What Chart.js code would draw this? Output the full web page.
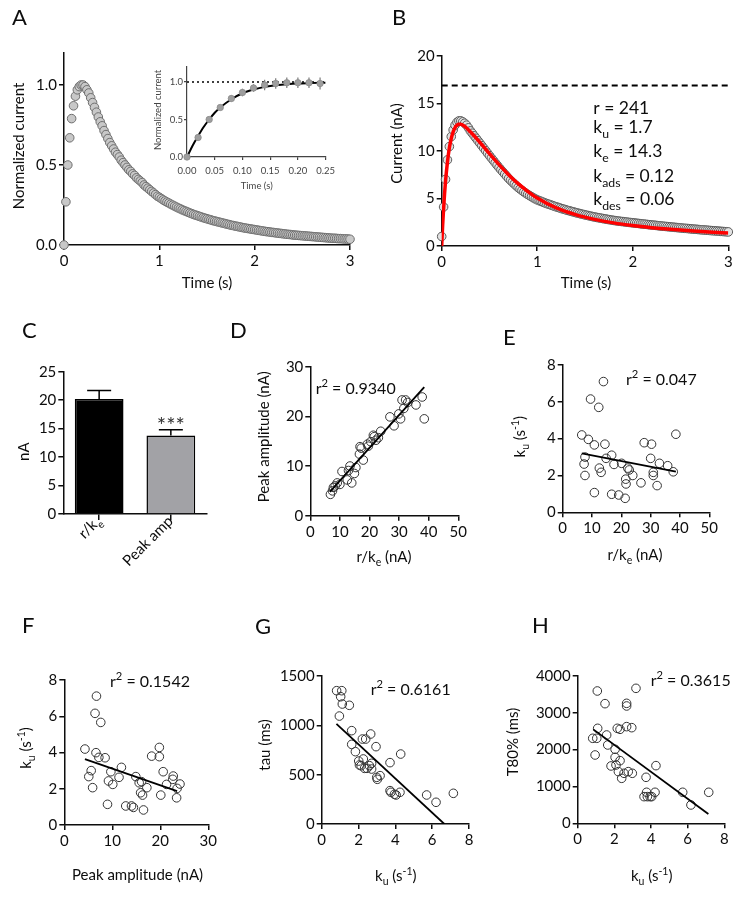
<!DOCTYPE html>
<html>
<head>
<meta charset="utf-8">
<script src="https://cdn.jsdelivr.net/npm/chart.js@4.4.1/dist/chart.umd.min.js"></script>
<style>
body { margin: 0; background: #fff; }
#fig { position: relative; width: 741px; height: 898px; overflow: hidden; background: #fff; }
#fig canvas { position: absolute; }
</style>
</head>
<body>
<div id="fig">
  <canvas id="panelA" width="370" height="300" style="left:0;top:0"></canvas>
  <canvas id="panelInset" width="200" height="140" style="left:140px;top:55px"></canvas>
  <canvas id="panelB" width="371" height="300" style="left:370px;top:0"></canvas>
  <canvas id="panelC" width="225" height="300" style="left:0;top:300px"></canvas>
  <canvas id="panelD" width="270" height="300" style="left:225px;top:300px"></canvas>
  <canvas id="panelE" width="246" height="300" style="left:495px;top:300px"></canvas>
  <canvas id="panelF" width="250" height="298" style="left:0;top:600px"></canvas>
  <canvas id="panelG" width="250" height="298" style="left:250px;top:600px"></canvas>
  <canvas id="panelH" width="241" height="298" style="left:500px;top:600px"></canvas>
</div>
<script>
// ---- data ----
// A / B traces are sampled every 20 ms from 0 to 3 s
const SAMPLE_STEP = 0.02;

const normCurrent = [
  0, 0.27, 0.50, 0.67, 0.79, 0.87, 0.93, 0.97, 0.99, 1.00,
  1.00, 0.99, 0.97, 0.95, 0.92, 0.89, 0.86, 0.83, 0.80, 0.77,
  0.745, 0.715, 0.69, 0.665, 0.64, 0.62, 0.60, 0.58, 0.565, 0.55,
  0.53, 0.515, 0.50, 0.485, 0.47, 0.46, 0.445, 0.435, 0.42, 0.41,
  0.40, 0.39, 0.375, 0.365, 0.355, 0.345, 0.335, 0.325, 0.315, 0.305,
  0.298, 0.29, 0.282, 0.275, 0.268, 0.262, 0.255, 0.249, 0.243, 0.237,
  0.231, 0.226, 0.22, 0.215, 0.21, 0.205, 0.2, 0.196, 0.191, 0.187,
  0.183, 0.179, 0.175, 0.171, 0.167, 0.164, 0.16, 0.157, 0.153, 0.15,
  0.147, 0.144, 0.141, 0.138, 0.135, 0.132, 0.129, 0.126, 0.123, 0.121,
  0.118, 0.116, 0.113, 0.111, 0.108, 0.106, 0.104, 0.102, 0.1, 0.098,
  0.096, 0.094, 0.092, 0.09, 0.088, 0.086, 0.084, 0.083, 0.081, 0.079,
  0.078, 0.076, 0.075, 0.073, 0.072, 0.07, 0.069, 0.067, 0.066, 0.065,
  0.063, 0.062, 0.061, 0.06, 0.059, 0.058, 0.057, 0.056, 0.055, 0.054,
  0.053, 0.052, 0.051, 0.05, 0.049, 0.048, 0.047, 0.046, 0.045, 0.044,
  0.043, 0.042, 0.042, 0.041, 0.040, 0.040, 0.039, 0.038, 0.038, 0.037,
  0.036
];

const insetTimes = [0, 0.02, 0.04, 0.06, 0.08, 0.10, 0.12, 0.14, 0.16, 0.18, 0.20, 0.22, 0.24];
const insetMeans = [0, 0.26, 0.50, 0.66, 0.78, 0.86, 0.92, 0.96, 0.98, 0.99, 0.99, 0.99, 0.98];
const insetErrors = [0, 0.02, 0.02, 0.03, 0.04, 0.05, 0.05, 0.07, 0.07, 0.07, 0.07, 0.07, 0.08];
const insetFitTimes = [0, 0.01, 0.02, 0.03, 0.04, 0.05, 0.06, 0.08, 0.10, 0.12, 0.14, 0.16, 0.18, 0.20, 0.22, 0.25];
const insetFitValues = [0, 0.15, 0.28, 0.40, 0.50, 0.59, 0.66, 0.77, 0.85, 0.90, 0.935, 0.955, 0.97, 0.98, 0.985, 0.99];

const cellCurrent = [
  1.0, 4.1, 7.0, 9.05, 10.45, 11.5, 12.2, 12.7, 13.0, 13.15,
  13.15, 13.05, 12.9, 12.7, 12.42, 12.1, 11.85, 11.58, 11.32, 11.06,
  10.8, 10.54, 10.28, 10.02, 9.76, 9.5, 9.25, 9.0, 8.75, 8.5,
  8.25, 8.02, 7.79, 7.56, 7.33, 7.1, 6.9, 6.71, 6.52, 6.33,
  6.15, 5.99, 5.84, 5.69, 5.55, 5.42, 5.3, 5.18, 5.06, 4.95,
  4.85, 4.77, 4.69, 4.61, 4.53, 4.46, 4.39, 4.32, 4.25, 4.18,
  4.11, 4.05, 3.99, 3.92, 3.86, 3.8, 3.74, 3.69, 3.63, 3.58,
  3.52, 3.47, 3.42, 3.37, 3.32, 3.27, 3.23, 3.18, 3.14, 3.09,
  3.05, 3.01, 2.97, 2.94, 2.9, 2.86, 2.83, 2.79, 2.76, 2.72,
  2.69, 2.66, 2.63, 2.61, 2.58, 2.56, 2.53, 2.51, 2.48, 2.46,
  2.44, 2.42, 2.39, 2.37, 2.34, 2.32, 2.3, 2.28, 2.25, 2.23,
  2.21, 2.19, 2.17, 2.14, 2.12, 2.1, 2.08, 2.06, 2.04, 2.02,
  2.0, 1.98, 1.96, 1.94, 1.92, 1.9, 1.88, 1.86, 1.85, 1.83,
  1.81, 1.79, 1.77, 1.76, 1.74, 1.72, 1.7, 1.69, 1.67, 1.66,
  1.64, 1.62, 1.61, 1.59, 1.58, 1.56, 1.54, 1.53, 1.51, 1.5,
  1.48
];
const modelTimes = [0, 0.01, 0.02, 0.03, 0.04, 0.06, 0.08, 0.10, 0.12, 0.14, 0.16, 0.18, 0.20, 0.25, 0.30, 0.40, 0.50, 0.60, 0.70, 0.80, 0.90, 1.00, 1.20, 1.40, 1.60, 1.80, 2.00, 2.20, 2.40, 2.60, 2.80, 3.00];
const modelCurrent = [0, 2.2, 3.9, 5.5, 6.8, 8.8, 10.3, 11.3, 12.0, 12.45, 12.7, 12.8, 12.8, 12.5, 12.0, 10.9, 9.7, 8.55, 7.5, 6.55, 5.75, 5.05, 4.0, 3.3, 2.8, 2.43, 2.15, 1.93, 1.75, 1.6, 1.47, 1.36];
const plateauCurrent = 16.87;
const plateauSpan = [0, 3];
const modelParams = ['r = 241', 'k_{u} = 1.7', 'k_{e} = 14.3', 'k_{ads} = 0.12', 'k_{des} = 0.06'];

const barCategories = ['r/k_{e}', 'Peak amp'];
const barValues = [20.2, 13.8];
const barErrors = [1.5, 1.0];
const barMarks = ['', '***'];

const rKe = [6.8, 7.5, 7.8, 8.4, 9.1, 10.0, 10.7, 12.5, 12.9, 13.4, 14.0, 14.9, 15.4, 16.6, 16.8, 17.2, 17.9, 19.3, 19.6, 20.4, 21.3, 21.6, 22.2, 23.0, 23.8, 26.9, 28.3, 29.9, 30.5, 31.0, 31.6, 32.2, 32.9, 35.7, 37.8, 38.5];
const peakAmp = [4.3, 5.0, 5.7, 6.0, 6.6, 6.3, 8.9, 7.2, 9.1, 10.0, 6.6, 8.5, 9.7, 12.4, 13.9, 13.6, 11.2, 14.4, 14.0, 14.9, 16.2, 15.9, 15.2, 15.7, 17.0, 19.9, 18.1, 20.5, 19.5, 23.3, 21.6, 23.3, 22.8, 22.3, 23.9, 19.5];
const fitD = {x: [6.6, 38.5], y: [4.8, 25.9]};

const eRKe = [6.5, 7.3, 7.6, 7.6, 8.75, 9.5, 10.8, 10.8, 12.3, 12.5, 13.1, 13.9, 14.4, 14.8, 16.7, 16.7, 17.5, 19.1, 20.1, 21.3, 21.5, 21.6, 22.2, 22.7, 23.9, 26.7, 27.8, 30.0, 30.3, 30.9, 30.9, 32.2, 33.0, 35.8, 37.7, 38.6];
const eKu = [4.2, 2.62, 3.0, 2.0, 3.96, 6.15, 3.66, 1.07, 5.7, 2.4, 2.17, 7.1, 3.7, 2.93, 3.1, 0.98, 2.6, 0.94, 2.66, 0.76, 1.8, 1.54, 2.4, 2.3, 2.0, 1.6, 3.78, 2.93, 3.7, 2.17, 2.0, 1.45, 2.66, 2.53, 2.2, 4.24];
const fitE = {x: [6.5, 38.6], y: [3.2, 2.21]};

const fPeak = [4.3, 5.1, 5.6, 5.9, 6.4, 6.7, 6.6, 7.2, 7.6, 8.5, 9.0, 9.2, 9.7, 10.1, 11.4, 11.9, 12.8, 14.0, 14.4, 14.9, 15.6, 15.9, 16.1, 16.3, 16.5, 17.2, 18.2, 19.8, 19.8, 20.1, 20.6, 21.3, 22.6, 22.7, 23.4, 23.5, 24.1];
const fKu = [4.19, 2.67, 3.0, 2.06, 6.16, 7.11, 3.99, 3.73, 5.66, 3.71, 1.14, 2.43, 2.94, 2.24, 2.63, 3.18, 1.05, 1.05, 0.97, 2.67, 2.33, 1.78, 2.39, 1.65, 0.83, 2.06, 3.8, 4.28, 3.77, 1.65, 2.94, 2.24, 2.52, 2.7, 1.5, 2.02, 2.26];
const fitF = {x: [4.3, 23.5], y: [3.63, 1.87]};

const gKu = [0.81, 0.96, 1.03, 1.09, 1.12, 1.50, 1.63, 1.63, 1.83, 2.01, 2.05, 2.14, 2.21, 2.26, 2.33, 2.39, 2.46, 2.59, 2.66, 2.71, 2.71, 2.95, 2.99, 3.02, 3.17, 3.71, 3.71, 3.76, 3.95, 4.04, 4.25, 4.29, 5.70, 6.21, 7.15];
const gTau = [1351, 1094, 1290, 1351, 1216, 1203, 946, 807, 733, 638, 598, 591, 861, 659, 564, 861, 564, 591, 912, 557, 615, 784, 473, 453, 490, 622, 338, 321, 301, 294, 321, 709, 294, 220, 311];
const fitG = {x: [0.8, 6.66], y: [1015, 0]};

const hKu = [0.82, 0.95, 1.04, 1.07, 1.09, 1.49, 1.58, 1.64, 1.82, 2.04, 2.04, 2.09, 2.16, 2.22, 2.31, 2.31, 2.40, 2.53, 2.67, 2.67, 2.67, 2.76, 2.95, 2.98, 3.18, 3.62, 3.73, 3.76, 3.80, 3.95, 4.04, 4.22, 4.27, 5.73, 6.18, 7.15];
const hT80 = [2308, 1855, 2308, 3593, 2579, 3249, 2398, 2127, 1557, 2009, 1792, 1584, 2579, 1403, 1701, 2552, 1222, 1358, 3258, 3186, 2625, 1403, 2597, 1358, 3665, 724, 1249, 842, 724, 724, 724, 842, 1566, 842, 498, 842];
const fitH = {x: [0.85, 7.13], y: [2550, 253]};

// ---- styling helpers ----
const FONT = 'Lato, "Open Sans", sans-serif';
const INK = '#0d0d0d';
Chart.defaults.font.family = FONT;
Chart.defaults.color = INK;

function toPoints(xs, ys) {
    return xs.map(function(x, i) { return {x: x, y: ys[i]}; });
}

function tickFormat(decimals) {
    return function(value) { return Number(value).toFixed(decimals); };
}

function axis(o) {
    const color = o.color || INK;
    return {
        type: 'linear',
        min: o.min,
        max: o.max,
        afterFit: function(scale) {
            if (scale.isHorizontal()) scale.height = o.size; else scale.width = o.size;
        },
        ticks: {
            stepSize: o.step,
            includeBounds: false,
            autoSkip: false,
            maxRotation: 0,
            color: color,
            padding: o.padding === undefined ? 2 : o.padding,
            font: {family: FONT, size: o.font || 15},
            callback: tickFormat(o.decimals || 0)
        },
        grid: {drawOnChartArea: false, drawTicks: true, tickLength: o.tick || 5, color: color, lineWidth: o.line || 1.5},
        border: {color: color, width: o.line || 1.5}
    };
}

function baseOptions(padTop, padRight, scales) {
    return {
        responsive: false,
        animation: false,
        events: [],
        layout: {padding: {top: padTop, right: padRight, left: 0, bottom: 0}},
        plugins: {legend: {display: false}, tooltip: {enabled: false}},
        scales: scales
    };
}

// text with _{sub} and ^{sup} parts
function parseRich(str) {
    const parts = [];
    const re = /([_^])\{([^}]*)\}|([^_^]+)/g;
    let m;
    while ((m = re.exec(str))) {
        if (m[3]) parts.push({text: m[3], kind: 'n'});
        else parts.push({text: m[2], kind: m[1] === '_' ? 'sub' : 'sup'});
    }
    return parts;
}

function drawRich(ctx, item) {
    const size = item.size || 15;
    const small = size * 0.7;
    const parts = parseRich(item.text);
    ctx.save();
    ctx.fillStyle = item.color || INK;
    ctx.textBaseline = 'alphabetic';
    ctx.textAlign = 'left';
    let total = 0;
    parts.forEach(function(p) {
        ctx.font = (p.kind === 'n' ? size : small) + 'px ' + FONT;
        p.w = ctx.measureText(p.text).width;
        total += p.w;
    });
    let x = item.align === 'center' ? -total / 2 : (item.align === 'right' ? -total : 0);
    ctx.translate(item.x, item.y);
    if (item.rotate) ctx.rotate(item.rotate * Math.PI / 180);
    parts.forEach(function(p) {
        ctx.font = (p.kind === 'n' ? size : small) + 'px ' + FONT;
        const dy = p.kind === 'sub' ? size * 0.28 : (p.kind === 'sup' ? -size * 0.42 : 0);
        ctx.fillText(p.text, x, dy);
        x += p.w;
    });
    ctx.restore();
}

function textPlugin(items) {
    return {
        id: 'panelText',
        afterDraw: function(chart) {
            items.forEach(function(item) { drawRich(chart.ctx, item); });
        }
    };
}

function letter(ch, x, y) {
    return {text: ch, x: x, y: y, size: 22};
}

// ---- A: normalized current ----
new Chart(document.getElementById('panelA'), {
    type: 'scatter',
    data: {
        datasets: [{
            data: normCurrent.map(function(v, i) { return {x: i * SAMPLE_STEP, y: v}; }),
            pointRadius: 4.3,
            pointBorderWidth: 1,
            pointBorderColor: '#6e6e6e',
            pointBackgroundColor: '#c8c8c8',
            clip: false
        }]
    },
    options: baseOptions(53, 20, {
        x: axis({min: 0, max: 3, step: 1, size: 55}),
        y: axis({min: 0, max: 1.2, step: 0.5, size: 64, decimals: 1})
    }),
    plugins: [textPlugin([
        letter('A', 12, 25),
        {text: 'Normalized current', x: 24, y: 146, rotate: -90, align: 'center'},
        {text: 'Time (s)', x: 207, y: 288, align: 'center'}
    ])]
});

// ---- A inset: rise phase ----
const insetErrorBars = {
    id: 'insetErrorBars',
    beforeDatasetsDraw: function(chart) {
        const meta = chart.getDatasetMeta(0);
        const y = chart.scales.y;
        const ctx = chart.ctx;
        ctx.save();
        ctx.strokeStyle = '#7a7a7a';
        ctx.lineWidth = 1.2;
        meta.data.forEach(function(pt, i) {
            ctx.beginPath();
            ctx.moveTo(pt.x, y.getPixelForValue(insetMeans[i] - insetErrors[i]));
            ctx.lineTo(pt.x, y.getPixelForValue(insetMeans[i] + insetErrors[i]));
            ctx.stroke();
        });
        ctx.restore();
    }
};

new Chart(document.getElementById('panelInset'), {
    type: 'scatter',
    data: {
        datasets: [{
            data: toPoints(insetTimes, insetMeans),
            pointRadius: 3.2,
            pointBorderWidth: 0.8,
            pointBorderColor: '#8a8a8a',
            pointBackgroundColor: '#9e9e9e',
            clip: false
        }, {
            data: toPoints(insetFitTimes, insetFitValues),
            showLine: true,
            cubicInterpolationMode: 'monotone',
            borderColor: '#000',
            borderWidth: 2,
            pointRadius: 0
        }, {
            data: [{x: 0, y: 1}, {x: 0.25, y: 1}],
            showLine: true,
            borderColor: '#000',
            borderWidth: 1.4,
            borderDash: [2, 3],
            pointRadius: 0
        }]
    },
    options: baseOptions(12, 11, {
        x: axis({min: 0, max: 0.25, step: 0.05, size: 38, decimals: 2, font: 9.5, tick: 3, line: 1.2, padding: 5, color: '#444'}),
        y: axis({min: 0, max: 1.2, step: 0.5, size: 47, decimals: 1, font: 9.5, tick: 3, line: 1.2, padding: 1, color: '#444'})
    }),
    plugins: [insetErrorBars, textPlugin([
        {text: 'Normalized current', x: 21, y: 55, rotate: -90, align: 'center', size: 9.5, color: '#444'},
        {text: 'Time (s)', x: 116.7, y: 134, align: 'center', size: 9.5, color: '#444'}
    ])]
});

// ---- B: single cell with model fit ----
new Chart(document.getElementById('panelB'), {
    type: 'scatter',
    data: {
        datasets: [{
            data: toPoints(modelTimes, modelCurrent),
            showLine: true,
            cubicInterpolationMode: 'monotone',
            borderColor: '#ff0000',
            borderWidth: 3.5,
            pointRadius: 0
        }, {
            data: toPoints(plateauSpan, [plateauCurrent, plateauCurrent]),
            showLine: true,
            borderColor: '#000',
            borderWidth: 2,
            borderDash: [6, 4],
            pointRadius: 0,
            clip: false
        }, {
            data: cellCurrent.map(function(v, i) { return {x: i * SAMPLE_STEP, y: v}; }),
            pointRadius: 4.3,
            pointBorderWidth: 1,
            pointBorderColor: '#5a5a5a',
            pointBackgroundColor: '#e2e2e2',
            clip: false
        }]
    },
    options: baseOptions(55.7, 12.7, {
        x: axis({min: 0, max: 3, step: 1, size: 54}),
        y: axis({min: 0, max: 20, step: 5, size: 71.7})
    }),
    plugins: [textPlugin([
        letter('B', 22, 25),
        {text: 'Current (nA)', x: 32, y: 143.5, rotate: -90, align: 'center'},
        {text: 'Time (s)', x: 216, y: 288, align: 'center'},
        {text: modelParams[0], x: 223.3, y: 114, size: 17.5},
        {text: modelParams[1], x: 223.3, y: 133, size: 17.5},
        {text: modelParams[2], x: 223.3, y: 157, size: 17.5},
        {text: modelParams[3], x: 223.3, y: 182, size: 17.5},
        {text: modelParams[4], x: 223.3, y: 205, size: 17.5}
    ])]
});

// ---- C: bar comparison ----
const barExtras = {
    id: 'barExtras',
    afterDatasetsDraw: function(chart) {
        const meta = chart.getDatasetMeta(0);
        const y = chart.scales.y;
        const ctx = chart.ctx;
        ctx.save();
        ctx.strokeStyle = '#000';
        ctx.lineWidth = 1.5;
        meta.data.forEach(function(bar, i) {
            const top = y.getPixelForValue(barValues[i] + barErrors[i]);
            ctx.beginPath();
            ctx.moveTo(bar.x, bar.y);
            ctx.lineTo(bar.x, top);
            ctx.moveTo(bar.x - 12, top);
            ctx.lineTo(bar.x + 12, top);
            ctx.stroke();
            if (barMarks[i]) {
                drawRich(ctx, {text: barMarks[i], x: bar.x, y: top + 3, size: 22, align: 'center', color: '#333'});
            }
            drawRich(ctx, {text: barCategories[i], x: bar.x + 3, y: chart.chartArea.bottom + 8, rotate: -45, align: 'right'});
        });
        ctx.restore();
    }
};

new Chart(document.getElementById('panelC'), {
    type: 'bar',
    data: {
        labels: barCategories,
        datasets: [{
            data: barValues,
            backgroundColor: ['#000000', '#a2a2a6'],
            borderColor: '#000',
            borderWidth: 1.5,
            barPercentage: 0.85,
            categoryPercentage: 0.8
        }]
    },
    options: baseOptions(71.7, 18.3, {
        x: {
            type: 'category',
            afterFit: function(scale) { scale.height = 86; },
            ticks: {display: false},
            grid: {drawOnChartArea: false, drawTicks: true, tickLength: 6, offset: false, color: INK, lineWidth: 1.5},
            border: {color: INK, width: 1.5}
        },
        y: axis({min: 0, max: 25, step: 5, size: 63.3})
    }),
    plugins: [barExtras, textPlugin([
        letter('C', 22, 38),
        {text: 'nA', x: 29, y: 151.7, rotate: -90, align: 'center'}
    ])]
});

// ---- D-H: scatter with regression line ----
function scatterPanel(id, xs, ys, fit, padTop, padRight, xAxis, yAxis, texts) {
    return new Chart(document.getElementById(id), {
        type: 'scatter',
        data: {
            datasets: [{
                data: toPoints(fit.x, fit.y),
                showLine: true,
                borderColor: '#000',
                borderWidth: 1.8,
                pointRadius: 0
            }, {
                data: toPoints(xs, ys),
                pointRadius: 4.3,
                pointBorderWidth: 1,
                pointBorderColor: '#333',
                pointBackgroundColor: 'rgba(0,0,0,0)',
                clip: false
            }]
        },
        options: baseOptions(padTop, padRight, {x: xAxis, y: yAxis}),
        plugins: [textPlugin(texts)]
    });
}

scatterPanel('panelD', rKe, peakAmp, fitD, 66.7, 36.7,
    axis({min: 0, max: 50, step: 10, size: 84.3}),
    axis({min: 0, max: 30, step: 10, size: 85.3}), [
        letter('D', 5, 38),
        {text: 'Peak amplitude (nA)', x: 44, y: 136.7, rotate: -90, align: 'center'},
        {text: 'r/k_{e} (nA)', x: 159, y: 262, align: 'center'},
        {text: 'r^{2} = 0.9340', x: 90.7, y: 93.5, size: 16}
    ]);

scatterPanel('panelE', eRKe, eKu, fitE, 65, 31.7,
    axis({min: 0, max: 50, step: 10, size: 87.7}),
    axis({min: 0, max: 8, step: 2, size: 67.7}), [
        letter('E', 8, 45),
        {text: 'k_{u} (s^{-1})', x: 30, y: 136.7, rotate: -90, align: 'center'},
        {text: 'r/k_{e} (nA)', x: 140, y: 260, align: 'center'},
        {text: 'r^{2} = 0.047', x: 131, y: 85, size: 16}
    ]);

scatterPanel('panelF', fPeak, fKu, fitF, 80, 41.7,
    axis({min: 0, max: 30, step: 10, size: 73}),
    axis({min: 0, max: 8, step: 2, size: 64.3}), [
        letter('F', 22, 33),
        {text: 'k_{u} (s^{-1})', x: 31, y: 148, rotate: -90, align: 'center'},
        {text: 'Peak amplitude (nA)', x: 137.5, y: 279.5, align: 'center'},
        {text: 'r^{2} = 0.1542', x: 110, y: 87, size: 16}
    ]);

scatterPanel('panelG', gKu, gTau, fitG, 76, 31,
    axis({min: 0, max: 8, step: 2, size: 74}),
    axis({min: 0, max: 1500, step: 500, size: 71.7}), [
        letter('G', 5, 34),
        {text: 'tau (ms)', x: 20, y: 145, rotate: -90, align: 'center'},
        {text: 'k_{u} (s^{-1})', x: 145.8, y: 281, align: 'center'},
        {text: 'r^{2} = 0.6161', x: 120.7, y: 95, size: 16}
    ]);

scatterPanel('panelH', hKu, hT80, fitH, 76, 16.7,
    axis({min: 0, max: 8, step: 2, size: 74.7}),
    axis({min: 0, max: 4000, step: 1000, size: 77.7}), [
        letter('H', 32, 33),
        {text: 'T80% (ms)', x: 17.5, y: 142, rotate: -90, align: 'center'},
        {text: 'k_{u} (s^{-1})', x: 151.7, y: 281, align: 'center'},
        {text: 'r^{2} = 0.3615', x: 150.7, y: 86, size: 16}
    ]);
</script>
</body>
</html>
